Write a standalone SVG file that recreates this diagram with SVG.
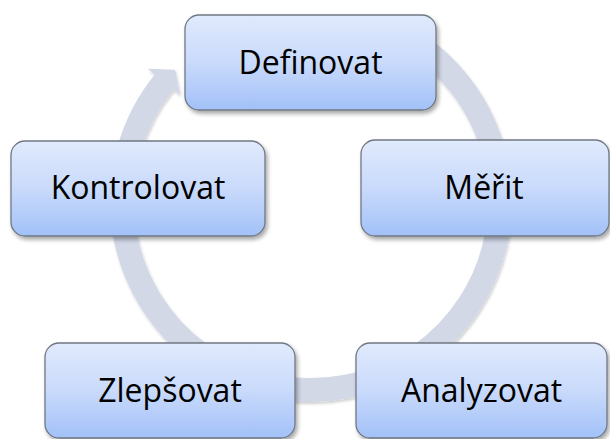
<svg xmlns="http://www.w3.org/2000/svg" width="610" height="439" viewBox="0 0 610 439">
  <defs>
    <linearGradient id="boxGrad" x1="0" y1="0" x2="0" y2="1">
      <stop offset="0" stop-color="#e1eafd"/>
      <stop offset="0.5" stop-color="#c9dafb"/>
      <stop offset="1" stop-color="#a2c1f8"/>
    </linearGradient>
    <filter id="shadow" x="-10%" y="-10%" width="125%" height="130%">
      <feGaussianBlur in="SourceAlpha" stdDeviation="2"/>
      <feOffset dx="1.5" dy="2.5" result="b"/>
      <feComponentTransfer><feFuncA type="linear" slope="0.35"/></feComponentTransfer>
      <feMerge><feMergeNode/><feMergeNode in="SourceGraphic"/></feMerge>
    </filter>
    <filter id="ringShadow" x="-10%" y="-10%" width="120%" height="120%">
      <feGaussianBlur in="SourceAlpha" stdDeviation="1.5"/>
      <feOffset dx="0.5" dy="1.5" result="b"/>
      <feComponentTransfer><feFuncA type="linear" slope="0.2"/></feComponentTransfer>
      <feMerge><feMergeNode/><feMergeNode in="SourceGraphic"/></feMerge>
    </filter>
  </defs>
  <style>
    .box { fill: url(#boxGrad); stroke: #707883; stroke-width: 1.3; filter: url(#shadow); }
    .label { font-family: "Open Sans", "Noto Sans", sans-serif; font-size: 32px; fill: #000000; text-anchor: middle; }
    .ring { fill: none; stroke: #d2d8e6; stroke-width: 24; }
    .head { fill: #d2d8e6; }
  </style>
  <rect width="610" height="439" fill="#ffffff"/>
  <g id="connectors" filter="url(#ringShadow)">
    <path class="ring" d="M405.5,37.3 A189,189 0 1 1 164.1,82.1"/>
    <polygon class="head" points="147.8,68.8 175.1,69.7 180.4,95.3"/>
  </g>
  <g id="node-definovat">
    <rect class="box" x="185" y="15" width="251" height="95" rx="14" ry="14"/>
    <text class="label" x="310.5" y="73.5">Definovat</text>
  </g>
  <g id="node-merit">
    <rect class="box" x="361" y="140" width="248" height="96" rx="14" ry="14"/>
    <text class="label" x="484" y="199">Měřit</text>
  </g>
  <g id="node-analyzovat">
    <rect class="box" x="356" y="343" width="251" height="95" rx="14" ry="14"/>
    <text class="label" x="481.5" y="401.5">Analyzovat</text>
  </g>
  <g id="node-zlepsovat">
    <rect class="box" x="45" y="343" width="250" height="95" rx="14" ry="14"/>
    <text class="label" x="170" y="401.5">Zlepšovat</text>
  </g>
  <g id="node-kontrolovat">
    <rect class="box" x="11" y="141" width="254" height="95" rx="14" ry="14"/>
    <text class="label" x="138" y="199">Kontrolovat</text>
  </g>
</svg>
